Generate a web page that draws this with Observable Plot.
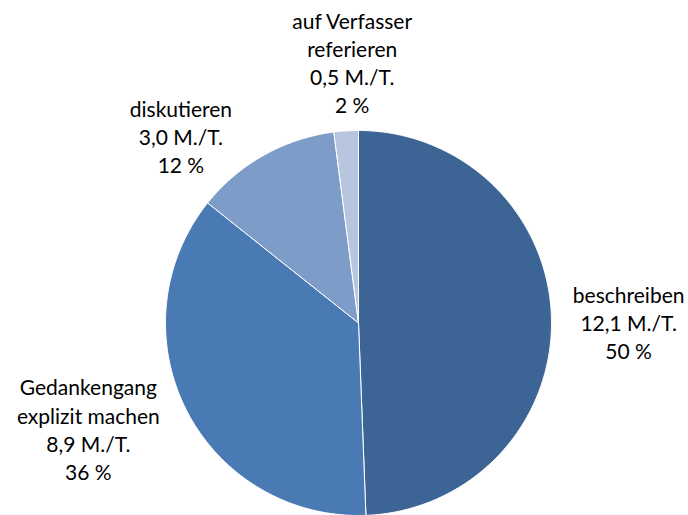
<!DOCTYPE html>
<html>
<head>
<meta charset="utf-8">
<script src="https://cdn.jsdelivr.net/npm/d3@7"></script>
<script src="https://cdn.jsdelivr.net/npm/@observablehq/plot@0.6"></script>
<style>
  html, body { margin: 0; padding: 0; background: #fff; }
</style>
</head>
<body>
<div id="chart"></div>
<script>
// Data
const categories = ["beschreiben", "Gedankengang explizit machen", "diskutieren", "auf Verfasser referieren"];
const labelNames = ["beschreiben", "Gedankengang\nexplizit machen", "diskutieren", "auf Verfasser\nreferieren"];
const values = [12.1, 8.9, 3.0, 0.5];        // M./T.
const valueLabels = ["12,1 M./T.", "8,9 M./T.", "3,0 M./T.", "0,5 M./T."];
const percentLabels = ["50 %", "36 %", "12 %", "2 %"];

// Styles / layout (not data)
const colors = ["#3C6595", "#4A7AB4", "#7E9CC8", "#B8C5DF"];
const labelNudge = [[0, 4], [-29, -16], [-45, 48], [11, 8]]; // pixel offsets for label placement

const pie = d3.pie().sort(null).value(d => d)(values);
const rows = pie.map((p, i) => ({
  name: categories[i],
  start: p.startAngle,
  end: p.endAngle
}));

// Polygon points for each slice (unit circle, angle clockwise from top)
const pts = [];
rows.forEach(r => {
  pts.push({name: r.name, x: 0, y: 0});
  const n = Math.max(4, Math.ceil((r.end - r.start) / 0.01));
  for (let k = 0; k <= n; k++) {
    const a = r.start + (r.end - r.start) * k / n;
    pts.push({name: r.name, x: Math.sin(a), y: Math.cos(a)});
  }
  pts.push({name: r.name, x: 0, y: 0});
});

const labelR = 1.4;
const labels = rows.map((r, i) => {
  const m = (r.start + r.end) / 2;
  return {
    x: labelR * Math.sin(m),
    y: labelR * Math.cos(m),
    text: labelNames[i] + "\n" + valueLabels[i] + "\n" + percentLabels[i],
    dx: labelNudge[i][0],
    dy: labelNudge[i][1]
  };
});

const W = 688, H = 515;
const cx = 358, cy = 323, R = 193;

const chart = Plot.plot({
  width: W,
  height: H,
  marginLeft: cx - R,
  marginRight: W - (cx + R),
  marginTop: cy - R,
  marginBottom: Math.max(0, H - (cy + R)),
  x: {domain: [-1, 1], axis: null},
  y: {domain: [-1, 1], axis: null},
  color: {domain: categories, range: colors},
  style: {fontFamily: "Lato, 'Open Sans', sans-serif", background: "#fff", overflow: "visible"},
  marks: [
    Plot.line(pts, {x: "x", y: "y", z: "name", fill: "name", stroke: "#fff", strokeWidth: 1, curve: "linear", clip: false}),
    ...labels.map(l => Plot.text([l], {
      x: "x", y: "y", text: "text", dx: l.dx, dy: l.dy,
      fontSize: 21, lineHeight: 1.34, fill: "#000", textAnchor: "middle"
    }))
  ]
});

document.getElementById("chart").appendChild(chart);
</script>
</body>
</html>
